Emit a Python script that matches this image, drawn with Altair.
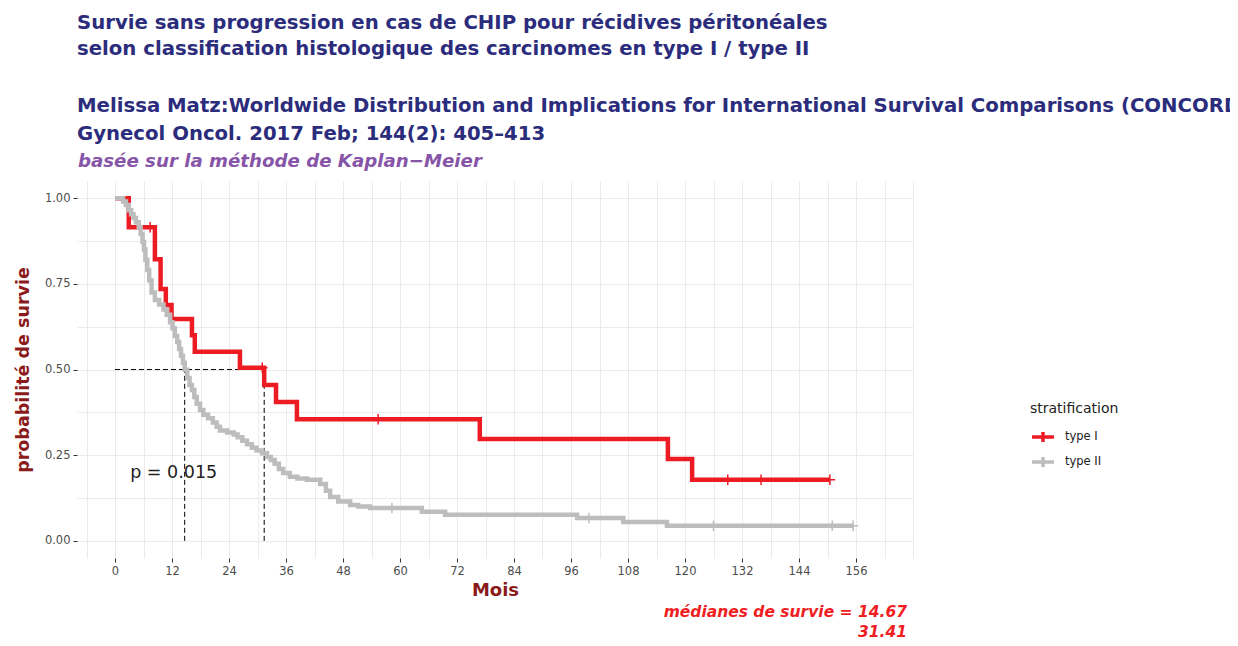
import altair as alt
import pandas as pd

FONT = "DejaVu Sans"

# ---------------- text ----------------
title_lines = [
    "Survie sans progression en cas de CHIP pour récidives péritonéales",
    "selon classification histologique des carcinomes en  type I / type II",
]
source_lines = [
    "Melissa Matz:Worldwide Distribution and Implications for International Survival Comparisons (CONCORD-2)",
    "Gynecol Oncol. 2017 Feb; 144(2): 405–413",
]
method_line = "basée sur la méthode de Kaplan−Meier"
groups = ["type I", "type II"]
colors = ["#ED1C24", "#BDBDBD"]
pval_text = "p = 0.015"
medians = [14.67, 31.41]

# ---------------- series ----------------
red_time = [0, 2.9, 8.4, 9.6, 10.7, 11.9, 16.2, 16.8, 26.3, 31.41, 33.9, 38.3, 76.8, 116.4, 121.5, 150.5]
red_surv = [1.0, 0.915, 0.822, 0.735, 0.688, 0.647, 0.60, 0.552, 0.505, 0.455, 0.405, 0.355, 0.297, 0.239, 0.178, 0.178]

gray_time = [0, 1.7, 2.3, 2.9, 3.4, 3.9, 4.4, 5.0, 5.4, 5.8, 6.1, 6.4, 6.8, 7.2, 7.7, 8.4,
             9.3, 10.2, 10.9, 11.6, 12.1, 12.6, 13.1, 13.5, 13.9, 14.3, 14.67, 15.2, 15.7, 16.2,
             16.7, 17.2, 17.9, 18.6, 19.6, 20.6, 21.4, 22.1, 23.6, 25.0, 25.8, 26.8, 27.8, 28.8,
             29.8, 31.0, 32.0, 32.8, 33.6, 34.5, 35.4, 36.8, 38.4, 40.4, 43.2, 44.4, 45.3, 47.0,
             49.5, 51.2, 53.7, 64.6, 69.5, 97.3, 107.0, 116.2, 155.4]
gray_surv = [1.0, 0.99, 0.98, 0.965, 0.953, 0.942, 0.93, 0.915, 0.895, 0.872, 0.85, 0.82, 0.79, 0.76, 0.725, 0.703,
             0.69, 0.675, 0.66, 0.638, 0.62, 0.598, 0.58, 0.56, 0.54, 0.52, 0.499, 0.475, 0.455, 0.44,
             0.42, 0.40, 0.382, 0.368, 0.358, 0.345, 0.333, 0.322, 0.316, 0.31, 0.302, 0.292, 0.282, 0.272,
             0.264, 0.256, 0.245, 0.236, 0.225, 0.21, 0.198, 0.187, 0.182, 0.178, 0.166, 0.146, 0.128, 0.115,
             0.105, 0.1, 0.096, 0.085, 0.076, 0.067, 0.055, 0.044, 0.044]

red_cens_time = [7.4, 31.0, 55.4, 129.0, 136.0, 150.5]
red_cens_surv = [0.915, 0.505, 0.355, 0.178, 0.178, 0.178]
gray_cens_time = [58.3, 99.8, 126.0, 151.0, 155.4]
gray_cens_surv = [0.096, 0.067, 0.044, 0.044, 0.044]

curves = pd.concat([
    pd.DataFrame({"t": red_time, "s": red_surv, "g": groups[0]}),
    pd.DataFrame({"t": gray_time, "s": gray_surv, "g": groups[1]}),
])
cens = pd.concat([
    pd.DataFrame({"t": red_cens_time, "s": red_cens_surv, "g": groups[0]}),
    pd.DataFrame({"t": gray_cens_time, "s": gray_cens_surv, "g": groups[1]}),
])
vmed = pd.DataFrame({"t": medians, "s": [0.0] * len(medians), "s2": [0.5] * len(medians)})
hmed = pd.DataFrame({"t": [0.0], "t2": [max(medians)], "s": [0.5]})
ptxt = pd.DataFrame({"t": [3.2], "s": [0.198], "txt": [pval_text]})
one = pd.DataFrame({"c": [0]})

# ---------------- scales / axes ----------------
x_scale = alt.Scale(domain=[-8, 168], nice=False, zero=False)
y_scale = alt.Scale(domain=[-0.05, 1.05], nice=False, zero=False)
color_scale = alt.Scale(domain=groups, range=colors)

x_vals = list(range(-6, 169, 6))
y_vals = [i * 0.125 for i in range(0, 9)]

X_MAJOR = "datum.value % 12 === 0 && datum.value >= 0 && datum.value <= 156"
Y_MAJOR = "(datum.value * 4) % 1 === 0"

x_axis = alt.Axis(
    values=x_vals,
    labelExpr=f"({X_MAJOR}) ? datum.label : ''",
    tickColor={"condition": {"test": X_MAJOR, "value": "#333333"}, "value": "transparent"},
    title="Mois", titleColor="#8B1A1A", titleFontSize=18, titleFontWeight="bold", titleFont=FONT,
    titlePadding=5,
    labelFont=FONT, labelFontSize=11.5, labelColor="#4D4D4D", labelPadding=3,
    tickSize=4, tickWidth=1, domain=False, grid=True, gridColor="#EBEBEB", gridWidth=1,
)
y_axis = alt.Axis(
    values=y_vals,
    labelExpr=f"({Y_MAJOR}) ? format(datum.value, '.2f') : ''",
    tickColor={"condition": {"test": Y_MAJOR, "value": "#333333"}, "value": "transparent"},
    title="probabilité de survie", titleColor="#8B1A1A", titleFontSize=17.5, titleFontWeight="bold", titleFont=FONT,
    titlePadding=12,
    labelFont=FONT, labelFontSize=11.5, labelColor="#4D4D4D", labelPadding=3,
    tickSize=4, tickWidth=1, domain=False, grid=True, gridColor="#EBEBEB", gridWidth=1,
)

X = alt.X("t:Q", scale=x_scale, axis=x_axis)
Y = alt.Y("s:Q", scale=y_scale, axis=y_axis)

legend = alt.Legend(
    orient="none", legendX=953, legendY=221, title="stratification",
    titleFont=FONT, titleFontSize=14, titleFontWeight="normal", titleColor="#222222", titlePadding=8,
    labelFont=FONT, labelFontSize=11.5, labelColor="#222222", labelOffset=9,
    symbolType="M-1,0L1,0M0,-0.45L0,0.45", symbolSize=480, symbolStrokeWidth=3.5, rowPadding=0,
    padding=0,
)

lines = alt.Chart(curves).mark_line(interpolate="step-after", strokeWidth=4.5, strokeJoin="miter", strokeCap="butt").encode(
    x=X, y=Y,
    color=alt.Color("g:N", scale=color_scale, legend=legend),
    order=alt.Order("t:Q"),
)

points = alt.Chart(cens).mark_point(shape="M-1,0L1,0M0,-1L0,1", size=110, filled=False, strokeWidth=1.5, opacity=1).encode(
    x=X, y=Y,
    color=alt.Color("g:N", scale=color_scale, legend=legend),
)

vrules = alt.Chart(vmed).mark_rule(color="black", strokeDash=[5, 3], strokeWidth=1).encode(
    x=X, y=Y, y2="s2:Q",
)
hrule = alt.Chart(hmed).mark_rule(color="black", strokeDash=[5, 3], strokeWidth=1).encode(
    x=X, x2="t2:Q", y=Y,
)

ptext = alt.Chart(ptxt).mark_text(align="left", baseline="middle", font=FONT, fontSize=17.5, color="#222222").encode(
    x=X, y=Y, text="txt:N",
)

method = alt.Chart(one).mark_text(
    text=method_line, align="left", baseline="middle", font=FONT, fontSize=18.2,
    fontStyle="italic", fontWeight="bold", color="#8755A8",
).encode(x=alt.value(1), y=alt.value(-19))

caption = alt.Chart(one).mark_text(
    text=[f"médianes de survie = {medians[0]}", f"{medians[1]}"],
    align="right", baseline="top", font=FONT, fontSize=15.5, fontStyle="italic", fontWeight="bold",
    color="#F01E23", lineHeight=20,
).encode(x=alt.value(830), y=alt.value(424))

chart = alt.layer(vrules, hrule, lines, points, ptext, method, caption).properties(
    width=836, height=377,
    padding={"left": 69, "top": 173, "right": 317, "bottom": 80},
    autosize=alt.AutoSizeParams(type="none"),
    background="white",
    title=alt.Title(
        text=title_lines, subtitle=source_lines, anchor="start", frame="group", offset=8,
        font=FONT, fontSize=19.7, fontWeight="bold", color="#2B2C7C", lineHeight=26,
        subtitleFont=FONT, subtitleFontSize=19.7, subtitleFontWeight="bold",
        subtitleColor="#2B2C7C", subtitlePadding=38, subtitleLineHeight=28,
    ),
).configure_view(strokeWidth=0)

chart.save("out.html", embed_options={"renderer": "svg", "actions": False})
